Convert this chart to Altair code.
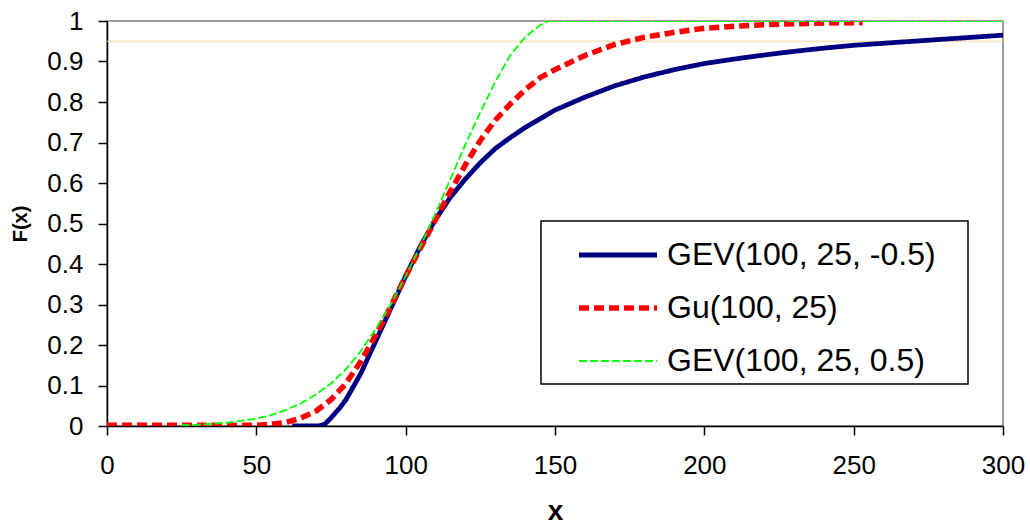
import altair as alt
import pandas as pd

series_names = ["GEV(100, 25, -0.5)", "Gu(100, 25)", "GEV(100, 25, 0.5)"]

gev_neg_x = [62, 71, 73, 75, 78, 80, 85, 90, 95, 100, 105, 110, 115, 120, 125, 130, 135, 140,
             150, 160, 170, 180, 190, 200, 210, 220, 230, 240, 250, 260, 270, 280, 290, 300]
gev_neg_y = [0.0, 0.0, 0.005, 0.02, 0.045, 0.065, 0.13, 0.21, 0.29, 0.37, 0.445, 0.51, 0.565, 0.61,
             0.65, 0.685, 0.712, 0.737, 0.78, 0.812, 0.84, 0.862, 0.88, 0.895, 0.906, 0.916, 0.925,
             0.933, 0.94, 0.945, 0.95, 0.955, 0.96, 0.965]

gu_x = [0, 50, 55, 60, 65, 70, 75, 80, 85, 90, 95, 100, 105, 110, 115, 120, 125, 130, 135, 140,
        145, 150, 160, 170, 180, 190, 200, 210, 220, 230, 240, 253]
gu_y = [0.002, 0.002, 0.004, 0.009, 0.02, 0.037, 0.065, 0.105, 0.16, 0.225, 0.295, 0.37, 0.44, 0.51,
        0.58, 0.645, 0.705, 0.755, 0.795, 0.83, 0.86, 0.88, 0.915, 0.942, 0.96, 0.972, 0.982, 0.987,
        0.991, 0.993, 0.995, 0.996]

gev_pos_x = [25, 30, 40, 50, 55, 60, 65, 70, 75, 80, 85, 90, 95, 100, 105, 110, 115, 120, 125,
             130, 135, 140, 145, 148, 300]
gev_pos_y = [0.002, 0.003, 0.008, 0.018, 0.027, 0.04, 0.056, 0.078, 0.105, 0.14, 0.185, 0.24, 0.3,
             0.37, 0.445, 0.525, 0.61, 0.695, 0.775, 0.85, 0.915, 0.96, 0.99, 1.0, 1.0]

ref_level = [0.95]

y_ticks = [0, 0.1, 0.2, 0.3, 0.4, 0.5, 0.6, 0.7, 0.8, 0.9, 1]
x_ticks = [0, 50, 100, 150, 200, 250, 300]

rows = []
for name, xs, ys in zip(series_names, [gev_neg_x, gu_x, gev_pos_x], [gev_neg_y, gu_y, gev_pos_y]):
    for i, (xv, yv) in enumerate(zip(xs, ys)):
        rows.append({"series": name, "x": xv, "F": yv, "i": i})
df = pd.DataFrame(rows)

FONT = "Liberation Sans"

legend = alt.Legend(
    title=None, orient="none", legendX=434, legendY=203,
    labelFontSize=32, labelFont=FONT, labelColor="black",
    symbolType="stroke", symbolSize=6084, symbolOffset=19, labelOffset=7,
    padding=16, clipHeight=30, rowPadding=21, labelLimit=500,
)

x_scale = alt.Scale(domain=[0, 300], nice=False, zero=False)
y_scale = alt.Scale(domain=[0, 1], nice=False)

lines = alt.Chart(df).mark_line(clip=True).encode(
    x=alt.X("x:Q", scale=x_scale,
            axis=alt.Axis(values=x_ticks, title="x", titleFontSize=28, titleFontWeight="bold",
                          titleFont=FONT, titlePadding=19, labelFontSize=26, labelFont=FONT,
                          labelPadding=17, tickSize=9, grid=False, domainColor="black",
                          tickColor="black", labelColor="black", titleColor="black",
                          domainWidth=1.5, tickWidth=1.5, labelFlush=False)),
    y=alt.Y("F:Q", scale=y_scale,
            axis=alt.Axis(values=y_ticks, format=".1~f", title="F(x)", titleFontSize=20,
                          titleFontWeight="bold", titleFont=FONT, titlePadding=16,
                          labelFontSize=26, labelFont=FONT, labelPadding=15, tickSize=9,
                          grid=False, domainColor="black", tickColor="black",
                          labelColor="black", titleColor="black",
                          domainWidth=1.5, tickWidth=1.5, labelFlush=False)),
    color=alt.Color("series:N", sort=series_names,
                    scale=alt.Scale(domain=series_names, range=["#000080", "#FF0000", "#00FF00"]),
                    legend=legend),
    strokeDash=alt.StrokeDash("series:N", sort=series_names,
                              scale=alt.Scale(domain=series_names, range=[[1, 0], [10, 5], [8, 3]]),
                              legend=legend),
    strokeWidth=alt.StrokeWidth("series:N", sort=series_names,
                                scale=alt.Scale(type="ordinal", domain=series_names, range=[4.8, 5.5, 1.8]),
                                legend=legend),
    order="i:Q",
)

ref = alt.Chart(pd.DataFrame({"F": ref_level})).mark_rule(color="#FFD59A", strokeWidth=1).encode(
    y=alt.Y("F:Q", scale=y_scale)
)

legend_box = alt.Chart(pd.DataFrame({"k": [0]})).mark_rect(
    fill="white", stroke="black", strokeWidth=1.5
).encode(
    x=alt.value(434), x2=alt.value(861), y=alt.value(200), y2=alt.value(363)
)

chart = alt.layer(ref, lines, legend_box).properties(
    width=896, height=405,
    autosize="none",
    padding={"left": 107, "top": 21, "right": 27, "bottom": 103},
    background="white",
).configure_view(stroke="#808080", strokeWidth=1.5)

chart.save("out.html", embed_options={"renderer": "svg", "actions": False})
